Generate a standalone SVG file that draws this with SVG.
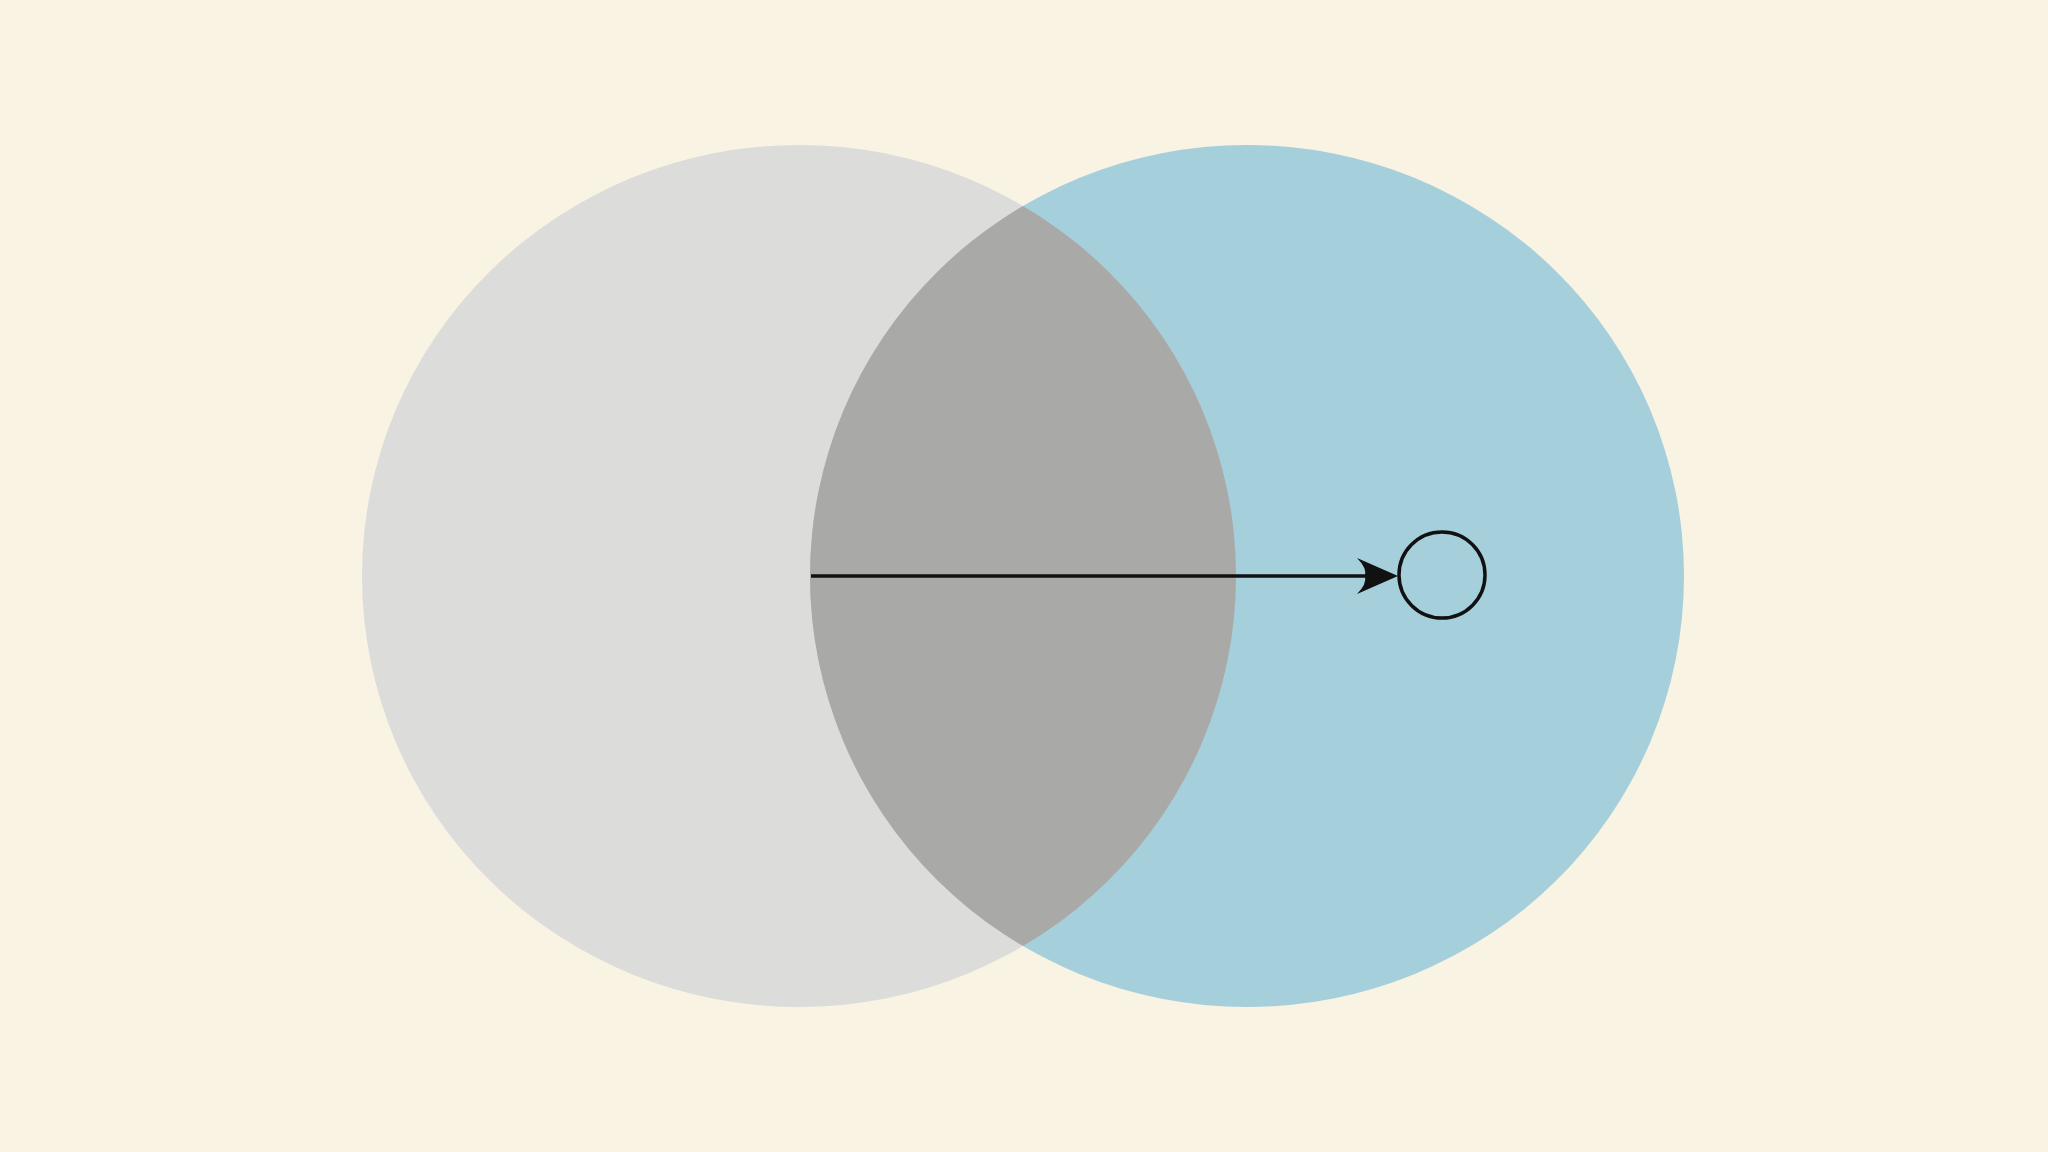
<svg xmlns="http://www.w3.org/2000/svg" width="2048" height="1152" viewBox="0 0 2048 1152">
  <style>
    .line { stroke: #111; stroke-width: 3.5; fill: none; }
  </style>
  <defs>
    <clipPath id="clipLeft"><ellipse cx="799" cy="576" rx="437" ry="431"/></clipPath>
  </defs>
  <rect width="2048" height="1152" fill="#f8f3e3"/>
  <g id="left-circle"><ellipse cx="799" cy="576" rx="437" ry="431" fill="#dcdcdb"/></g>
  <g id="right-circle"><ellipse cx="1247" cy="576" rx="437" ry="431" fill="#a6cfdc"/></g>
  <g id="overlap"><ellipse cx="1247" cy="576" rx="437" ry="431" fill="#a9a9a8" clip-path="url(#clipLeft)"/></g>
  <g id="target"><circle cx="1442" cy="575" r="43" class="line"/></g>
  <g id="connectors">
    <line x1="811" y1="576" x2="1368" y2="576" class="line"/>
    <path d="M1398,576 L1357,558 Q1367,568 1365,576 Q1367,584 1357,594 Z" fill="#111"/>
  </g>
</svg>
